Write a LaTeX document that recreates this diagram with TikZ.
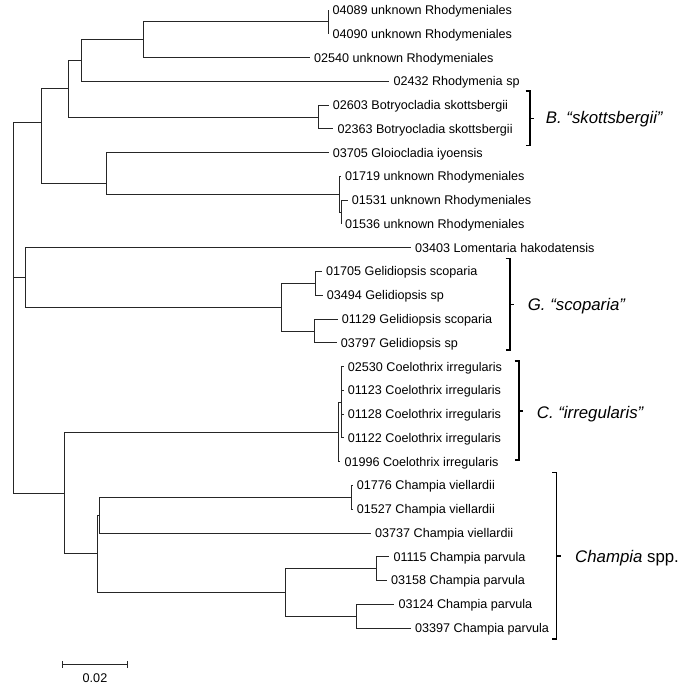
\documentclass[tikz,border=0pt]{standalone}
\usepackage{fontspec}
\setmainfont{Liberation Sans}
\begin{document}
\begin{tikzpicture}[x=1pt,y=-1pt,
  br/.style={draw=black!85, line width=0.8pt},
  leaf/.style={anchor=west, inner xsep=4pt, inner ysep=0pt, font=\fontsize{12.6}{14}\selectfont, text height=9pt, text depth=0pt},
  grp/.style={anchor=west, inner sep=0pt, font=\fontsize{16.8}{19}\selectfont, text height=12pt, text depth=0pt},
  brk/.style={draw=black, line width=1.1pt},
]
\useasboundingbox (0,0) rectangle (685,690);

% leaves
\node[leaf] (l1)  at (328.5,10)     {04089 unknown Rhodymeniales};
\node[leaf] (l2)  at (328.5,33.77)  {04090 unknown Rhodymeniales};
\node[leaf] (l3)  at (310,57.54)    {02540 unknown Rhodymeniales};
\node[leaf] (l4)  at (389.3,81.31)  {02432 Rhodymenia sp};
\node[leaf] (l5)  at (328.7,105.08) {02603 Botryocladia skottsbergii};
\node[leaf] (l6)  at (333.3,128.85) {02363 Botryocladia skottsbergii};
\node[leaf] (l7)  at (328.7,152.62) {03705 Gloiocladia iyoensis};
\node[leaf] (l8)  at (341,176.39)   {01719 unknown Rhodymeniales};
\node[leaf] (l9)  at (347.7,200.16) {01531 unknown Rhodymeniales};
\node[leaf] (l10) at (341,223.93)   {01536 unknown Rhodymeniales};
\node[leaf] (l11) at (411,247.7)    {03403 Lomentaria hakodatensis};
\node[leaf] (l12) at (322,271.47)   {01705 Gelidiopsis scoparia};
\node[leaf] (l13) at (322.7,295.24) {03494 Gelidiopsis sp};
\node[leaf] (l14) at (337.7,319.01) {01129 Gelidiopsis scoparia};
\node[leaf] (l15) at (336.7,342.78) {03797 Gelidiopsis sp};
\node[leaf] (l16) at (343.7,366.55) {02530 Coelothrix irregularis};
\node[leaf] (l17) at (343.7,390.32) {01123 Coelothrix irregularis};
\node[leaf] (l18) at (343.7,414.09) {01128 Coelothrix irregularis};
\node[leaf] (l19) at (343.7,437.86) {01122 Coelothrix irregularis};
\node[leaf] (l20) at (340.3,461.63) {01996 Coelothrix irregularis};
\node[leaf] (l21) at (352.7,485.4)  {01776 Champia viellardii};
\node[leaf] (l22) at (352.7,509.17) {01527 Champia viellardii};
\node[leaf] (l23) at (371,532.94)   {03737 Champia viellardii};
\node[leaf] (l24) at (389.3,556.71) {01115 Champia parvula};
\node[leaf] (l25) at (387,580.48)   {03158 Champia parvula};
\node[leaf] (l26) at (394.3,604.25) {03124 Champia parvula};
\node[leaf] (l27) at (411,628.02)   {03397 Champia parvula};

% internal nodes
\coordinate (n1)   at (328,21.9);
\coordinate (n2)   at (143.3,39.7);
\coordinate (n3)   at (81.7,60.5);
\coordinate (nB)   at (318,117);
\coordinate (n4)   at (68.3,88.75);
\coordinate (nT2)  at (341,212);
\coordinate (nT)   at (339,194.2);
\coordinate (nE)   at (106,183.3);
\coordinate (nD)   at (41.7,122);
\coordinate (nG1)  at (315,283.4);
\coordinate (nG2)  at (314.3,330.9);
\coordinate (nGel) at (281.7,307.5);
\coordinate (nF)   at (25.7,277.6);
\coordinate (nC2)  at (341.7,402.2);
\coordinate (nC)   at (338.3,432.2);
\coordinate (nV)   at (351.7,497.3);
\coordinate (nH2)  at (99.3,515.1);
\coordinate (nP1)  at (376.7,568.6);
\coordinate (nP2)  at (356.7,616.1);
\coordinate (nP)   at (285,592.4);
\coordinate (nH)   at (97.7,553.8);
\coordinate (nG)   at (64,493);
\coordinate (root) at (13.3,300);

% branches
\foreach \p/\c in {n1/l1.west, n1/l2.west, n2/n1, n2/l3.west, n3/n2, n3/l4.west,
  nB/l5.west, nB/l6.west, n4/n3, n4/nB, nT2/l9.west, nT2/l10.west, nT/l8.west, nT/nT2,
  nE/l7.west, nE/nT, nD/n4, nD/nE, nG1/l12.west, nG1/l13.west, nG2/l14.west, nG2/l15.west,
  nGel/nG1, nGel/nG2, nF/l11.west, nF/nGel, nC2/l16.west, nC2/l17.west, nC2/l18.west,
  nC2/l19.west, nC/nC2, nC/l20.west, nV/l21.west, nV/l22.west, nH2/nV, nH2/l23.west,
  nP1/l24.west, nP1/l25.west, nP2/l26.west, nP2/l27.west, nP/nP1, nP/nP2, nH/nH2, nH/nP,
  nG/nC, nG/nH, root/nD, root/nF, root/nG}
  \draw[br] (\p) |- (\c);

% group brackets
\draw[brk] (525.5,91) -- (530,91) -- (530,145.7) -- (525.5,145.7);
\draw[brk] (530,118.4) -- (534,118.4);
\node[grp] (gB) at (545.7,117.5) {\itshape B. “skottsbergii”};

\draw[brk] (505.5,258.3) -- (510,258.3) -- (510,350) -- (505.5,350);
\draw[brk] (510,304.5) -- (514,304.5);
\node[grp] (gG) at (527.7,304) {\itshape G. “scoparia”};

\draw[brk] (514.5,361) -- (519,361) -- (519,460) -- (514.5,460);
\draw[brk] (519,411) -- (523,411);
\node[grp] (gC) at (536.7,412) {\itshape C. “irregularis”};

\draw[brk] (552.2,472.3) -- (556.7,472.3) -- (556.7,639) -- (552.2,639);
\draw[brk] (556.7,556) -- (560.7,556);
\node[grp] (gCh) at (575,556.5) {\textit{Champia} spp.};

% scale bar
\coordinate (s1) at (62.7,664.3);
\coordinate (s2) at (127.7,664.3);
\draw[br] (s1) -- (s2);
\draw[br] (62.7,660.8) -- (62.7,667.8);
\draw[br] (127.7,660.8) -- (127.7,667.8);
\node[leaf, anchor=center, inner xsep=0pt] (sc) at (95,678) {0.02};
\end{tikzpicture}
\end{document}
